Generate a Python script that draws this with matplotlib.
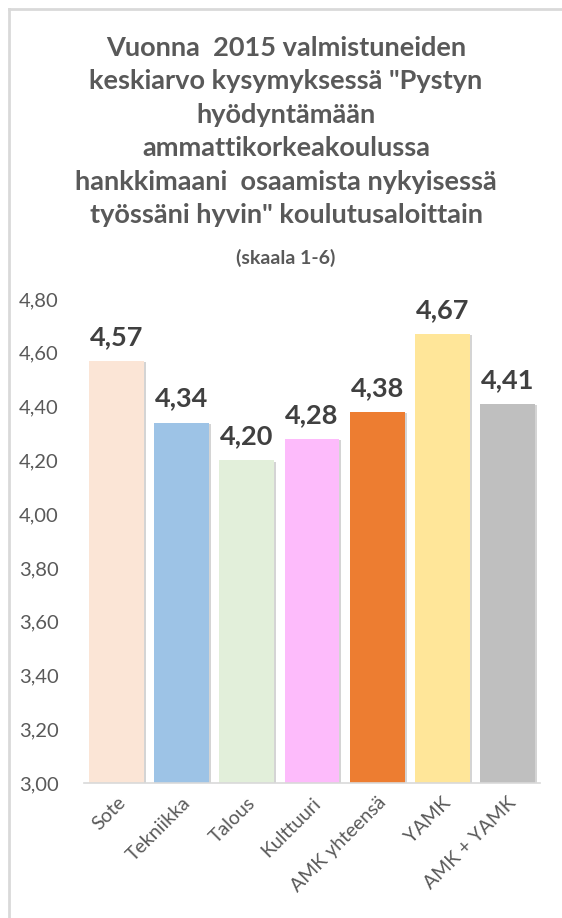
import matplotlib.pyplot as plt
import matplotlib.patheffects as pe
from matplotlib.lines import Line2D

# keskiarvot koulutusaloittain
alat = ["Sote", "Tekniikka", "Talous", "Kulttuuri", "AMK yhteensä", "YAMK", "AMK + YAMK"]
keskiarvot = [4.57, 4.34, 4.20, 4.28, 4.38, 4.67, 4.41]
varit = ["#FBE5D6", "#9DC3E6", "#E2EFDA", "#FDBBFB", "#ED7D31", "#FFE699", "#BFBFBF"]
y_ticks = [3.0, 3.2, 3.4, 3.6, 3.8, 4.0, 4.2, 4.4, 4.6, 4.8]

otsikko = ['Vuonna  2015 valmistuneiden',
           'keskiarvo kysymyksessä "Pystyn',
           'hyödyntämään',
           'ammattikorkeakoulussa',
           'hankkimaani  osaamista nykyisessä',
           'työssäni hyvin" koulutusaloittain']

plt.rcParams['font.family'] = ['Lato', 'DejaVu Sans']

W, H = 562, 918
fig = plt.figure(figsize=(W / 100, H / 100), dpi=100)

# kehys vain ylä- ja vasemmalle reunalle
fig.add_artist(Line2D([9 / W, 1], [1 - 9 / H, 1 - 9 / H], color="#D9D9D9", lw=2, transform=fig.transFigure))
fig.add_artist(Line2D([9 / W, 9 / W], [0, 1 - 9 / H], color="#D9D9D9", lw=2, transform=fig.transFigure))

# otsikon rivit yksitellen, riviväli n. 33 px
for k, rivi in enumerate(otsikko):
    fig.text(286 / W, 1 - (48 + k * 33.4) / H, rivi, ha="center", va="center", fontsize=19.5,
             fontweight="bold", color="#595959")
fig.text(286 / W, 1 - 258 / H, "(skaala 1-6)", ha="center", va="center", fontsize=14,
         fontweight="bold", color="#595959")

ax = fig.add_axes([84 / W, 1 - 783 / H, (540 - 84) / W, (783 - 299) / H])
x = range(len(alat))
palkit = ax.bar(x, keskiarvot, width=0.84, bottom=0, color=varit, zorder=2)
for p in palkit:
    p.set_path_effects([pe.SimplePatchShadow(offset=(1.5, -1), shadow_rgbFace="#A0A0A0", alpha=0.45),
                        pe.Normal()])

for i, v in enumerate(keskiarvot):
    ax.text(i, v + 0.045, f"{v:.2f}".replace(".", ","), ha="center", va="bottom",
            fontsize=19.5, fontweight="bold", color="#404040")

ax.set_ylim(3.0, 4.8)
ax.set_xlim(-0.5, len(alat) - 0.5)
ax.set_yticks(y_ticks)
ax.set_yticklabels([f"{t:.2f}".replace(".", ",") for t in y_ticks], fontsize=14.5, color="#595959")
ax.set_xticks(list(x))
ax.set_xticklabels(alat, rotation=45, ha="right", rotation_mode="anchor", fontsize=14, color="#595959")
ax.tick_params(axis="both", length=0, pad=8)
ax.tick_params(axis="y", pad=18)
for s in ["top", "right", "left"]:
    ax.spines[s].set_visible(False)
ax.spines["bottom"].set_color("#D9D9D9")
ax.spines["bottom"].set_linewidth(1.2)
ax.set_facecolor("none")

fig.savefig("out.png", dpi=100)
